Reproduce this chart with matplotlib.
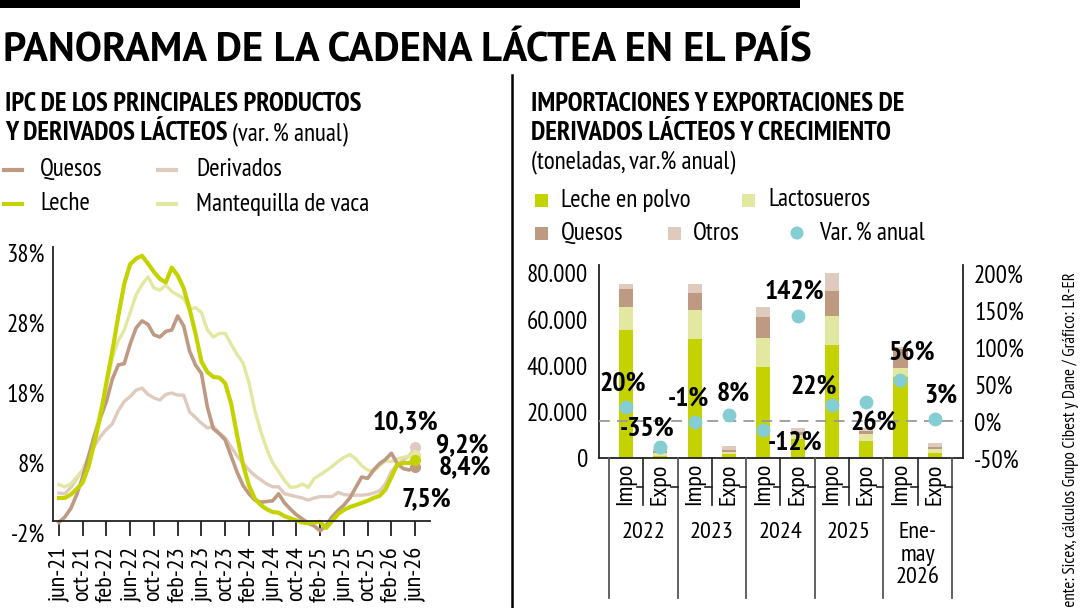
import matplotlib
matplotlib.use('Agg')
import matplotlib.pyplot as plt
from matplotlib import font_manager
from matplotlib.patches import Rectangle, Circle
from matplotlib.lines import Line2D
from matplotlib.transforms import blended_transform_factory
from matplotlib.ticker import FuncFormatter

noms = {f.name for f in font_manager.fontManager.ttflist}
etroite = [n for n in ['PT Sans Narrow', 'Fira Sans Condensed', 'Roboto Condensed'] if n in noms][:1]
plt.rcParams['font.family'] = etroite + ['DejaVu Sans']
titre_police = [n for n in ['PT Sans', 'Fira Sans', 'Open Sans'] if n in noms][:1] + ['DejaVu Sans']

# --- données graphique gauche : IPC (var. % anual), mensuel jun-21 -> jun-26
etiquettes_mois = ['jun-21', 'oct-21', 'feb-22', 'jun-22', 'oct-22', 'feb-23', 'jun-23', 'oct-23',
                   'feb-24', 'jun-24', 'oct-24', 'feb-25', 'jun-25', 'oct-25', 'feb-26', 'jun-26']
quesos = [-0.5, 0.3, 1.5, 3.5, 6.0, 9.0, 12.0, 14.5, 16.8, 20.0,
          22.0, 22.2, 25.0, 27.3, 28.3, 27.8, 26.3, 26.0, 26.8, 27.0,
          29.0, 27.6, 24.0, 22.0, 20.8, 16.0, 12.9, 12.2, 11.3, 9.0,
          6.7, 4.8, 3.6, 2.7, 2.4, 2.5, 2.6, 3.6, 2.3, 1.4,
          0.6, 0.0, -0.6, -1.0, -1.7, -0.9, 0.3, 1.2, 2.0, 3.0,
          4.5, 6.0, 5.8, 7.0, 7.9, 8.5, 9.4, 7.9, 7.2, 7.0,
          7.5]
leche = [3.0, 3.0, 3.5, 4.3, 5.2, 7.5, 11.0, 14.8, 19.5, 24.0,
         29.0, 33.6, 36.4, 37.2, 37.6, 36.5, 35.3, 34.3, 33.8, 35.9,
         34.8, 33.0, 30.0, 26.5, 22.5, 21.0, 20.3, 20.2, 19.4, 16.5,
         12.0, 7.8, 4.8, 2.9, 2.0, 1.4, 1.0, 0.9, 0.4, 0.1,
         -0.2, -0.5, -0.6, -0.5, -0.4, -1.3, -0.3, 0.7, 1.3, 1.7,
         2.0, 2.3, 2.6, 3.0, 3.3, 4.2, 6.0, 7.8, 8.0, 8.0,
         8.4]
derivados = [3.7, 3.6, 4.5, 5.8, 7.0, 8.8, 10.5, 11.8, 12.8, 13.6,
             15.5, 16.8, 17.5, 18.4, 18.7, 17.8, 17.3, 17.0, 17.8, 18.0,
             17.7, 17.7, 15.3, 14.5, 13.7, 13.0, 13.2, 12.3, 11.6, 10.3,
             9.0, 8.0, 7.0, 6.2, 5.6, 5.0, 4.6, 4.6, 3.6, 3.4,
             3.2, 3.0, 2.7, 3.0, 3.2, 3.2, 3.2, 3.8, 3.5, 3.4,
             3.4, 3.4, 3.5, 3.7, 4.0, 5.0, 6.8, 7.8, 8.4, 9.0,
             10.3]
mantequilla = [4.9, 4.6, 5.0, 6.0, 7.0, 9.0, 12.0, 15.5, 19.0, 23.0,
               25.5, 27.0, 29.5, 32.0, 33.5, 34.6, 33.0, 32.7, 33.4, 32.5,
               32.0, 31.5, 29.9, 30.2, 29.5, 27.0, 26.0, 26.5, 26.5, 25.0,
               23.5, 22.3, 19.5, 15.5, 12.5, 10.0, 8.0, 6.8, 5.5, 4.5,
               4.6, 5.0, 4.5, 5.8, 6.3, 6.9, 7.5, 8.2, 8.8, 9.2,
               8.6, 7.6, 7.0, 6.8, 7.6, 8.3, 8.2, 8.6, 8.8, 9.0,
               9.2]

# --- données graphique droite : toneladas y var. % anual
flujos = ['Impo', 'Expo'] * 5
periodos = ['2022', '2023', '2024', '2025', 'Ene-\nmay\n2026']
leche_polvo = [55500, 1200, 51500, 1900, 39600, 8500, 49000, 7500, 35300, 2400]
lactosueros = [9800, 1000, 12700, 900, 12500, 1500, 12700, 2900, 3600, 1600]
quesos_ton = [7800, 800, 7500, 700, 8800, 1500, 10800, 1200, 8200, 700]
otros = [2300, 1000, 3700, 1900, 4600, 1500, 7800, 1500, 1200, 2000]
var_anual = [20, -35, -1, 8, -12, 142, 22, 26, 56, 3]

# couleurs
VERT = '#c4d300'
VERT_PALE = '#e2e8a0'
TAUPE = '#bf9a82'
TAUPE_PALE = '#dfcbbd'
TURQUOISE = '#84cdd3'

W, H = 1080, 608
fig = plt.figure(figsize=(W / 100, H / 100), dpi=100)
fs_axe = 18          # graduations
fs_cat = 17.5        # Impo / Expo / années
fs_leg = 18          # légendes et sous-titres normaux
fs_tit = 19.3        # sous-titres en gras
fs_val = 20          # valeurs en gras

# ================= graphique gauche =================
ax1 = fig.add_axes([53 / W, 1 - 540 / H, 377 / W, (540 - 246.7) / H])
mois = list(range(len(quesos)))
series = [('Derivados', derivados, TAUPE_PALE, 2.4),
          ('Mantequilla de vaca', mantequilla, VERT_PALE, 2.4),
          ('Quesos', quesos, TAUPE, 2.6),
          ('Leche', leche, VERT, 3.0)]
for nom, val, coul, lw in series:
    ax1.plot(mois, val, color=coul, lw=lw)
    ax1.plot(mois[-1], val[-1], 'o', color=coul, ms=7)

ax1.set_xlim(-1.0, 62.5)
ax1.set_ylim(-3, 38.9)
ax1.set_xticks(range(0, 61, 4))
ax1.set_xticklabels(etiquettes_mois)
ax1.set_yticks([-2, 8, 18, 28, 38])
ax1.set_yticklabels([f'{v}%' for v in [-2, 8, 18, 28, 38]])
ax1.tick_params(axis='x', length=11, width=1.3, pad=7, color='#222', labelrotation=90, labelsize=17.5)
ax1.tick_params(axis='y', length=0, pad=6, labelsize=fs_axe)
for s in ['top', 'right']:
    ax1.spines[s].set_visible(False)
ax1.spines['bottom'].set_position(('data', -0.3))
ax1.spines['left'].set_bounds(-0.3, 38.9)
for s in ['bottom', 'left']:
    ax1.spines[s].set_linewidth(1.3)
    ax1.spines[s].set_color('#222')

# étiquettes finales (décalages en pixels)
decal_fin = {'Derivados': (-10, 25), 'Mantequilla de vaca': (47, 9),
             'Leche': (50, -7), 'Quesos': (11, -33)}
for nom, val, coul, lw in series:
    dx, dy = decal_fin[nom]
    ax1.annotate(f'{val[-1]:.1f}%'.replace('.', ','), (mois[-1], val[-1]),
                 xytext=(dx, dy), textcoords='offset pixels', ha='center', va='center',
                 fontsize=fs_val, fontweight='bold', annotation_clip=False)

# ================= graphique droit =================
ax2 = fig.add_axes([599.3 / W, 1 - 458.3 / H, 363.6 / W, (458.3 - 265) / H])
x = list(range(len(flujos)))
base = [0] * len(x)
for val, coul in [(leche_polvo, VERT), (lactosueros, VERT_PALE), (quesos_ton, TAUPE), (otros, TAUPE_PALE)]:
    ax2.bar(x, val, width=0.41, bottom=base, color=coul, zorder=2)
    base = [b + v for b, v in zip(base, val)]
ax2.set_xlim(-0.78, 9.82)
ax2.set_ylim(0, 83600)
ax2.set_yticks([0, 20000, 40000, 60000, 80000])
ax2.yaxis.set_major_formatter(FuncFormatter(lambda v, p: f'{int(v):,}'.replace(',', '.')))
ax2.set_xticks([])
ax2.tick_params(axis='y', length=0, pad=8, labelsize=fs_axe)
ax2.spines['top'].set_visible(False)
ax2.spines['right'].set_visible(False)
for s in ['bottom', 'left']:
    ax2.spines[s].set_linewidth(1.3)
    ax2.spines[s].set_color('#222')

ax2r = ax2.twinx()
ax2r.set_ylim(-50, -50 + 83600 / 80000 * 250)
ax2r.set_yticks([-50, 0, 50, 100, 150, 200])
ax2r.set_yticklabels([f'{v}%' for v in [-50, 0, 50, 100, 150, 200]])
ax2r.tick_params(axis='y', length=0, pad=8, labelsize=fs_axe)
ax2r.spines['top'].set_visible(False)
ax2r.spines['left'].set_visible(False)
ax2r.spines['bottom'].set_visible(False)
ax2r.spines['right'].set_linewidth(1.3)
ax2r.spines['right'].set_color('#222')
ax2r.axhline(0, color='#999999', lw=1.3, ls=(0, (6, 4)), zorder=1)
ax2r.scatter(x, var_anual, s=80, color=TURQUOISE, zorder=5)

decal_var = [(-3, 23), (-13, 19), (-6, 23), (4, 22), (32, -12),
             (-3, 25), (-18, 18), (7, -22), (11, 26), (6, 23)]
for xi, v, (dx, dy) in zip(x, var_anual, decal_var):
    ax2r.annotate(f'{v}%', (xi, v), xytext=(dx, dy), textcoords='offset pixels',
                  ha='center', va='center', fontsize=fs_val, fontweight='bold', zorder=6)

# couche de dessin en pixels (0,0 en haut à gauche)
ov = fig.add_axes([0, 0, 1, 1])
ov.set_xlim(0, W)
ov.set_ylim(H, 0)
ov.axis('off')
ov.patch.set_alpha(0)

# axe hiérarchique sous les barres
tr = blended_transform_factory(ax2.transData, ov.transData)
for k in range(6):
    ov.add_line(Line2D([2 * k - 0.5] * 2, [458.3, 598], color='#555', lw=1.3, transform=tr))
for xi, f in zip(x, flujos):
    ov.text(xi, 484, f, rotation=90, ha='center', va='center', fontsize=fs_cat, transform=tr)
    ov.add_line(Line2D([xi + 0.31, xi + 0.5], [487, 487], color='#222', lw=1.2, transform=tr))
    if f == 'Impo':
        ov.add_line(Line2D([xi + 0.5] * 2, [458.3, 505], color='#222', lw=1.2, transform=tr))
for k, p in enumerate(periodos):
    ov.text(2 * k + 0.5, 522, p, ha='center', va='top', fontsize=fs_cat, linespacing=1.1,
            transform=tr)

# ================= textes et légendes =================
ov.add_patch(Rectangle((0, 0), 800, 8, color='black', lw=0))
ov.add_line(Line2D([512, 512], [75, 608], color='black', lw=1.8))

titre = ov.text(3, 62, 'PANORAMA DE LA CADENA LÁCTEA EN EL PAÍS', fontsize=30, fontweight='bold',
                family=titre_police, va='baseline', ha='left')
rend = fig.canvas.get_renderer()
larg = titre.get_window_extent(rend).width
titre.set_fontsize(30 * 807 / larg)

ov.text(5, 111, 'IPC DE LOS PRINCIPALES PRODUCTOS', fontsize=fs_tit, fontweight='bold', va='baseline')
t = ov.text(5, 140, 'Y DERIVADOS LÁCTEOS', fontsize=fs_tit, fontweight='bold', va='baseline')
bb = t.get_window_extent(rend)
x_fin = ov.transData.inverted().transform((bb.x1, 0))[0]
ov.text(x_fin + 5, 140, '(var. % anual)', fontsize=fs_leg, va='baseline')

ov.text(531, 111, 'IMPORTACIONES Y EXPORTACIONES DE', fontsize=fs_tit, fontweight='bold', va='baseline')
ov.text(531, 140, 'DERIVADOS LÁCTEOS Y CRECIMIENTO', fontsize=fs_tit, fontweight='bold', va='baseline')
ov.text(531, 168, '(toneladas, var.% anual)', fontsize=fs_leg, va='baseline')

# légende gauche
leg_g = [('Quesos', TAUPE, 4, 40, 170), ('Derivados', TAUPE_PALE, 158, 196, 170),
         ('Leche', VERT, 4, 40, 204), ('Mantequilla de vaca', VERT_PALE, 158, 196, 204)]
for nom, coul, xs, xt, y in leg_g:
    ov.add_line(Line2D([xs, xs + 18], [y, y], color=coul, lw=3))
    ov.text(xt, y, nom, fontsize=fs_leg, va='center')

# légende droite
leg_d = [('Leche en polvo', VERT, 541, 561, 200), ('Lactosueros', VERT_PALE, 748, 768, 200),
         ('Quesos', TAUPE, 541, 561, 233), ('Otros', TAUPE_PALE, 674, 693, 233)]
for nom, coul, xc, xt, y in leg_d:
    ov.add_patch(Rectangle((xc - 6.5, y - 6.5), 13, 13, color=coul, lw=0))
    ov.text(xt, y, nom, fontsize=fs_leg, va='center')
ov.add_patch(Circle((797, 233), 6.5, color=TURQUOISE, lw=0))
ov.text(819, 233, 'Var. % anual', fontsize=fs_leg, va='center')

ov.text(1071, 272, 'Fuente: Sicex, cálculos Grupo Cibest y Dane / Gráfico: LR-ER',
        rotation=90, ha='center', va='top', fontsize=12.2)

fig.savefig('out.png', dpi=100)
